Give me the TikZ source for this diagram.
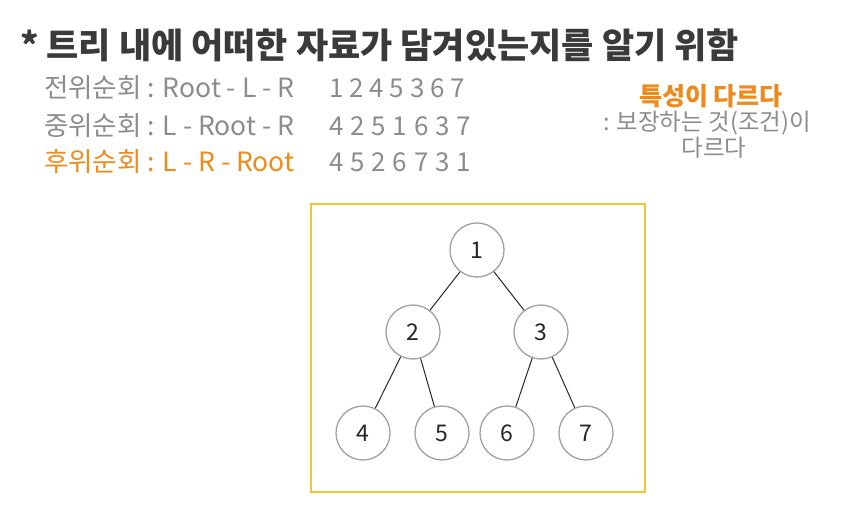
\documentclass[tikz,border=0pt]{standalone}
\usepackage{fontspec}
\usepackage{tikz}
\usetikzlibrary{positioning}
\newfontfamily\kr{Noto Sans CJK KR}
\definecolor{titlegray}{HTML}{3A3A3A}
\definecolor{textgray}{HTML}{8C8C8C}
\definecolor{noteorange}{HTML}{EE8A1C}
\definecolor{boxyellow}{HTML}{F2C630}
\definecolor{circgray}{HTML}{A0A0A0}
\tikzset{x=1pt,y=-1pt,
every node/.style={font=\kr, inner sep=0pt},
tnode/.style=
    { % circles of the tree
        circle,
        draw=circgray,
        line width=1.3pt,
        minimum size=54pt,
        fill=white,
        font=\kr\fontsize{23}{25}\selectfont,
        text=black!85
    },
    row/.style={anchor=west, text=textgray, font=\kr\fontsize{26.5}{28}\selectfont},
    seq/.style={anchor=west, text=textgray, font=\kr\fontsize{26}{28}\selectfont},
    every edge/.style={ % tree edges
        draw,
        line width=1pt,
        black!85
    }
}
\begin{document}
\begin{tikzpicture}
\useasboundingbox (0,0) rectangle (853,521);
% title
\node [anchor=west, text=titlegray, font=\kr\bfseries\fontsize{35}{37}\selectfont] (title) at (20,45) {* 트리 내에 어떠한 자료가 담겨있는지를 알기 위함};
% traversal rows
\node [row] (pre)  at (44,88)  {전위순회 : Root - L - R};
\node [row] (in)   at (44,126) {중위순회 : L - Root - R};
\node [row, text=noteorange] (post) at (44,162) {후위순회 : L - R - Root};
\node [seq] (preseq)  at (329,88)  {1 2 4 5 3 6 7};
\node [seq] (inseq)   at (329,126) {4\ \kern1pt 2\ \kern1pt 5\ \kern1pt 1\ \kern1pt 6\ \kern1pt 3\ \kern1pt 7};
\node [seq] (postseq) at (329,162) {4\ \kern1pt 5\ \kern1pt 2\ \kern1pt 6\ \kern1pt 7\ \kern1pt 3\ \kern1pt 1};
% note
\node [text=noteorange, font=\kr\bfseries\fontsize{25}{27}\selectfont] (note) at (711,96) {특성이 다르다};
\node [text=textgray, font=\kr\fontsize{23.5}{25}\selectfont] (notesub) at (707,123) {: 보장하는 것(조건)이};
\node [text=textgray, font=\kr\fontsize{23.5}{25}\selectfont] (notesub2) at (714,148) {다르다};
% tree
\draw [boxyellow, line width=2pt] (311,204) rectangle (645,492);
\node [tnode] (1) at (477,250) {1};
\node [tnode] (2) at (413,332) {2};
\node [tnode] (3) at (541,332) {3};
\node [tnode] (4) at (363,433) {4};
\node [tnode] (5) at (442,433) {5};
\node [tnode] (6) at (507,433) {6};
\node [tnode] (7) at (586,433) {7};
\draw
    (1) edge (2)
    (1) edge (3)
    (2) edge (4)
    (2) edge (5)
    (3) edge (6)
    (3) edge (7)
    ;
\end{tikzpicture}
\end{document}
